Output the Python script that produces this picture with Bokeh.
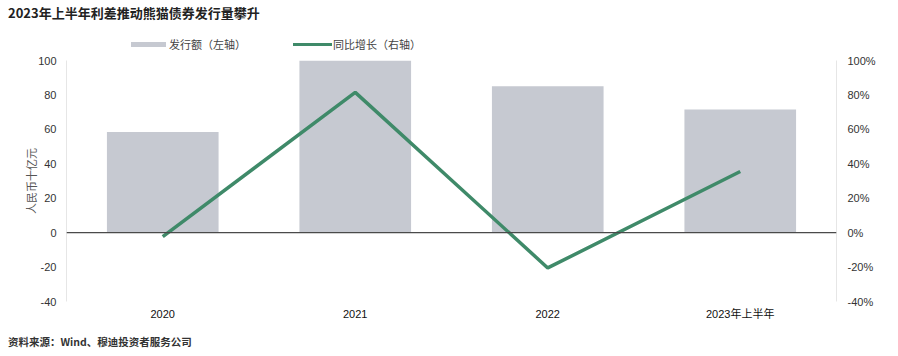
from bokeh.plotting import figure
from bokeh.layouts import column
from bokeh.models import (Range1d, LinearAxis, FixedTicker, Span, ColumnDataSource,
                          PrintfTickFormatter, Div)
from bokeh.embed import file_html
from bokeh.resources import INLINE

categories = ["2020", "2021", "2022", "2023年上半年"]
issuance = [58.5, 100.0, 85.0, 71.5]          # 人民币十亿元 (left axis)
growth = [-2.3, 81.5, -20.5, 35.5]            # % (right axis)
left_ticks = [-40, -20, 0, 20, 40, 60, 80, 100]
right_ticks = [-40, -20, 0, 20, 40, 60, 80, 100]

title_text = "2023年上半年利差推动熊猫债券发行量攀升"
source_text = "资料来源：Wind、穆迪投资者服务公司"
bar_name = "发行额（左轴）"
line_name = "同比增长（右轴）"
y_label = "人民币十亿元"

BAR_COLOR = "#C6C9D1"
LINE_COLOR = "#3F8A69"
CJK = "Noto Sans CJK SC"
NUM = "Liberation Sans, Noto Sans CJK SC"
W = 898
HEAD_H, MAIN_H, FOOT_H = 52, 278, 26


def span_text(txt, left, top, size, color, bold=False):
    weight = "bold" if bold else "normal"
    return (f'<span style="position:absolute;left:{left}px;top:{top}px;white-space:nowrap;'
            f'font-family:\'{CJK}\';font-size:{size}px;line-height:{size}px;'
            f'font-weight:{weight};color:{color};">{txt}</span>')


def swatch(left, top, w, h, color):
    return (f'<span style="position:absolute;left:{left}px;top:{top}px;width:{w}px;'
            f'height:{h}px;background:{color};display:block;"></span>')


# ---------- header: title + legend ----------
head_html = (f'<div style="position:relative;width:{W}px;height:{HEAD_H}px;margin:0;padding:0;'
             f'background:white;">'
             + span_text(title_text, 8, 6, 13, "#222222", bold=True)
             + swatch(131, 41.5, 35, 5, BAR_COLOR)
             + span_text(bar_name, 169, 38.5, 11, "#444444")
             + swatch(293, 42.5, 39, 3.5, LINE_COLOR)
             + span_text(line_name, 333, 38.5, 11, "#444444")
             + '</div>')
head = Div(text=head_html, width=W, height=HEAD_H, margin=(0, 0, 0, 0))

# ---------- main chart ----------
p = figure(width=W, height=MAIN_H, x_range=categories, y_range=Range1d(-40, 100),
           output_backend="svg", toolbar_location=None,
           min_border_left=66, min_border_right=62, min_border_top=8, min_border_bottom=29)
p.extra_y_ranges = {"pct": Range1d(-40, 100)}
p.outline_line_color = None
p.grid.grid_line_color = None
p.background_fill_color = "white"
p.border_fill_color = "white"

src = ColumnDataSource(dict(cat=categories, val=issuance, g=growth))
p.vbar(x="cat", top="val", width=0.58, source=src, color=BAR_COLOR, line_color=None)
p.add_layout(Span(location=0, dimension="width", line_color="#4a4a4a", line_width=1.2))
p.line(x="cat", y="g", source=src, y_range_name="pct", line_color=LINE_COLOR, line_width=3.5)

ya = p.yaxis[0]
ya.ticker = FixedTicker(ticks=left_ticks)
ya.formatter = PrintfTickFormatter(format="%d")
ya.axis_line_color = "#e6e6e6"
ya.major_tick_line_color = None
ya.minor_tick_line_color = None
ya.major_tick_out = 0
ya.major_label_standoff = 10
ya.major_label_text_font = NUM
ya.major_label_text_font_size = "11px"
ya.major_label_text_color = "#333333"
ya.axis_label = y_label
ya.axis_label_text_font = CJK
ya.axis_label_text_font_style = "normal"
ya.axis_label_text_font_size = "11px"
ya.axis_label_text_color = "#555555"
ya.axis_label_standoff = -4

ra = LinearAxis(y_range_name="pct", ticker=FixedTicker(ticks=right_ticks),
                formatter=PrintfTickFormatter(format="%d%%"))
ra.axis_line_color = "#e6e6e6"
ra.major_tick_line_color = None
ra.minor_tick_line_color = None
ra.major_tick_out = 0
ra.major_label_standoff = 11
ra.major_label_text_font = NUM
ra.major_label_text_font_size = "11px"
ra.major_label_text_color = "#333333"
p.add_layout(ra, "right")

xa = p.xaxis[0]
xa.axis_line_color = None
xa.major_tick_line_color = None
xa.minor_tick_line_color = None
xa.major_tick_out = 0
xa.major_label_standoff = 6
xa.major_label_text_font = NUM
xa.major_label_text_font_size = "11px"
xa.major_label_text_color = "#111111"

# ---------- footer: source ----------
foot_html = (f'<div style="position:relative;width:{W}px;height:{FOOT_H}px;margin:0;padding:0;'
             f'background:white;">'
             + span_text(source_text, 8, 6.75, 10.5, "#333333", bold=True)
             + '</div>')
foot = Div(text=foot_html, width=W, height=FOOT_H, margin=(0, 0, 0, 0))

layout = column(head, p, foot, spacing=0)
open("out.html", "w").write(file_html(layout, INLINE))
